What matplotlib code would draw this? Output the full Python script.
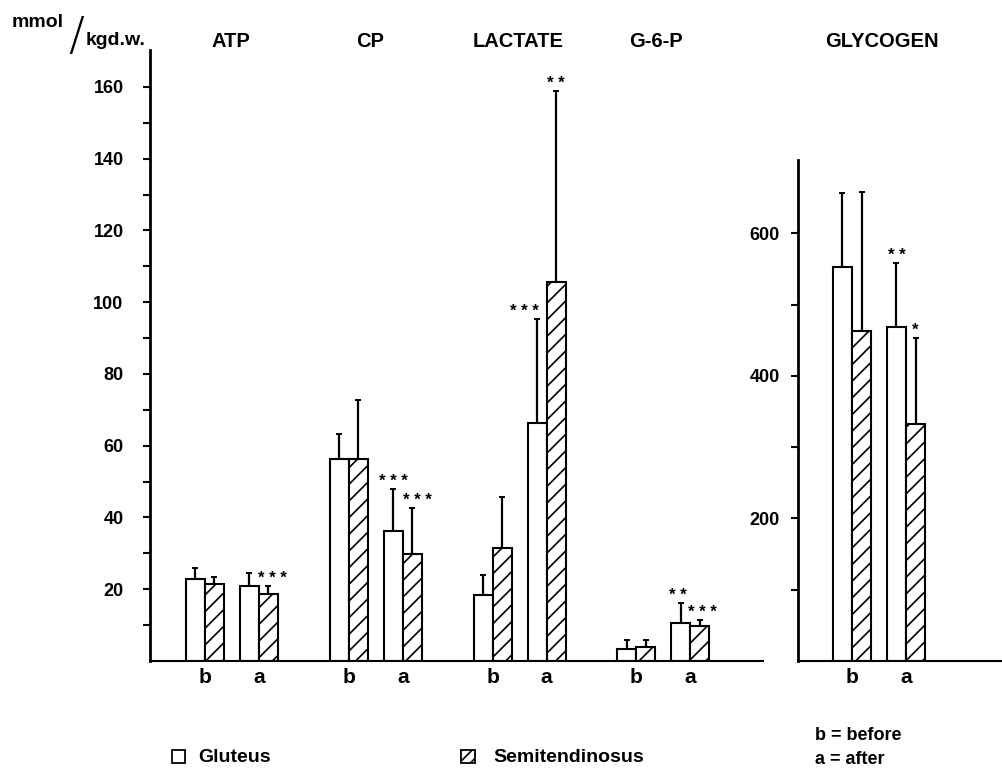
import matplotlib
matplotlib.use("Agg")
import matplotlib.pyplot as plt
from matplotlib.patches import Rectangle

plt.rcParams["font.family"] = ["Liberation Sans", "DejaVu Sans"]
plt.rcParams["font.weight"] = "bold"
plt.rcParams["hatch.linewidth"] = 1.2

# values (mmol/kg d.w.), error = +SD
metabolites = ["ATP", "CP", "LACTATE", "G-6-P"]
glut_before = [22.8, 56.3, 18.4, 3.3]
glut_before_sd = [3.2, 7.0, 5.6, 2.6]
semi_before = [21.4, 56.3, 31.5, 3.9]
semi_before_sd = [2.0, 16.5, 14.2, 2.0]
glut_after = [20.9, 36.2, 66.3, 10.6]
glut_after_sd = [3.6, 11.8, 29.0, 5.6]
semi_after = [18.7, 29.8, 105.6, 9.8]
semi_after_sd = [2.2, 12.9, 53.3, 1.6]
glut_after_sig = ["", "***", "***", "**"]
semi_after_sig = ["***", "***", "**", "***"]

# glycogen: before, after
glyc_glut = [553, 468]
glyc_glut_sd = [103, 90]
glyc_semi = [463, 332]
glyc_semi_sd = [195, 121]
glyc_glut_sig = ["", "**"]
glyc_semi_sig = ["", "*"]

W, H = 1002, 783
BW = 0.132      # bar width (x unit = 144 px)
GAP = 0.375     # distance b -> a

# small sideways nudges of the star labels (points)
glut_star_dx = [0, 0, -9, -2]
semi_star_dx = [3, 4, 0, 2]


def fx(px):
    return px / W


def fy(py):
    return 1 - py / H


def draw_pair(ax, c, g, gsd, s, ssd, gsig, ssig, gdx=0, sdx=0):
    ax.bar(c - BW / 2, g, BW, color="white", edgecolor="black", lw=1.5, zorder=2)
    ax.bar(c + BW / 2, s, BW, color="white", edgecolor="black", lw=1.5,
           hatch="//", zorder=2)
    for x, v, e, sig, dx in [(c - BW / 2, g, gsd, gsig, gdx),
                             (c + BW / 2, s, ssd, ssig, sdx)]:
        ax.errorbar(x, v, yerr=[[0], [e]], fmt="none", ecolor="black",
                    elinewidth=1.6, capsize=2.5, capthick=1.4, zorder=3)
        if sig:
            ax.annotate(" ".join(sig), (x, v + e), xytext=(dx, 2),
                        textcoords="offset points", ha="center", va="baseline",
                        fontsize=12)


def style(ax):
    ax.spines["top"].set_visible(False)
    ax.spines["right"].set_visible(False)
    ax.spines["left"].set_linewidth(2)
    ax.spines["bottom"].set_linewidth(1.5)
    ax.tick_params(axis="y", which="both", direction="out", length=5, width=1.5,
                   labelsize=13)
    ax.tick_params(axis="x", length=0, labelsize=15, pad=5)


fig = plt.figure(figsize=(W / 100, H / 100), dpi=100)

# left panel: ATP, CP, lactate, G-6-P
ax = fig.add_axes([fx(150), fy(661), fx(763) - fx(150), fy(50) - fy(661)])
xs_b = []
xs_a = []
for i in range(len(metabolites)):
    cb = i
    ca = i + GAP
    xs_b.append(cb)
    xs_a.append(ca)
    draw_pair(ax, cb, glut_before[i], glut_before_sd[i], semi_before[i],
              semi_before_sd[i], "", "")
    draw_pair(ax, ca, glut_after[i], glut_after_sd[i], semi_after[i],
              semi_after_sd[i], glut_after_sig[i], semi_after_sig[i],
              glut_star_dx[i], semi_star_dx[i])
ax.set_xlim(-0.382, 3.88)
ax.set_ylim(0, 170.3)
ax.set_yticks(range(20, 161, 20))
ax.set_yticks(range(10, 160, 20), minor=True)
ax.set_xticks(xs_b + xs_a, ["b"] * 4 + ["a"] * 4)
style(ax)
ax.tick_params(axis="y", pad=14)

# right panel: glycogen
ax2 = fig.add_axes([fx(798), fy(661), fx(1002) - fx(798), fy(160) - fy(661)])
draw_pair(ax2, GAP, glyc_glut[0], glyc_glut_sd[0], glyc_semi[0], glyc_semi_sd[0],
          glyc_glut_sig[0], glyc_semi_sig[0])
draw_pair(ax2, 2 * GAP, glyc_glut[1], glyc_glut_sd[1], glyc_semi[1], glyc_semi_sd[1],
          glyc_glut_sig[1], glyc_semi_sig[1])
ax2.set_xlim(0, 204 / 144)
ax2.set_ylim(0, 702.7)
ax2.set_yticks([200, 400, 600])
ax2.set_yticks([100, 300, 500], minor=True)
ax2.set_xticks([GAP, 2 * GAP], ["b", "a"])
style(ax2)
ax2.tick_params(axis="y", pad=8)

# panel titles
titles = ["ATP", "CP", "LACTATE", "G-6-P", "GLYCOGEN"]
title_x = [231, 370, 518, 656, 882]
for t, x in zip(titles, title_x):
    fig.text(fx(x), fy(47), t, ha="center", va="baseline", fontsize=14.5)

# unit label
fig.text(fx(12), fy(27), "mmol", ha="left", va="baseline", fontsize=14)
fig.text(fx(76), fy(50), "/", ha="center", va="baseline", fontsize=34,
         family="DejaVu Sans", fontweight="light")
fig.text(fx(86), fy(45), "kgd.w.", ha="left", va="baseline", fontsize=14)

# legend
fig.patches.append(Rectangle((fx(172), fy(763)), fx(13), 13 / H, transform=fig.transFigure,
                             facecolor="white", edgecolor="black", lw=1.3))
fig.text(fx(198), fy(757), "Gluteus", ha="left", va="center", fontsize=14)
fig.patches.append(Rectangle((fx(461), fy(763)), fx(14), 13 / H, transform=fig.transFigure,
                             facecolor="white", edgecolor="black", lw=1.3, hatch="///"))
fig.text(fx(493), fy(757), "Semitendinosus", ha="left", va="center", fontsize=14)
fig.text(fx(815), fy(735), "b = before", ha="left", va="center", fontsize=13)
fig.text(fx(815), fy(760), "a = after", ha="left", va="center", fontsize=13)

fig.savefig("out.png", dpi=100)
